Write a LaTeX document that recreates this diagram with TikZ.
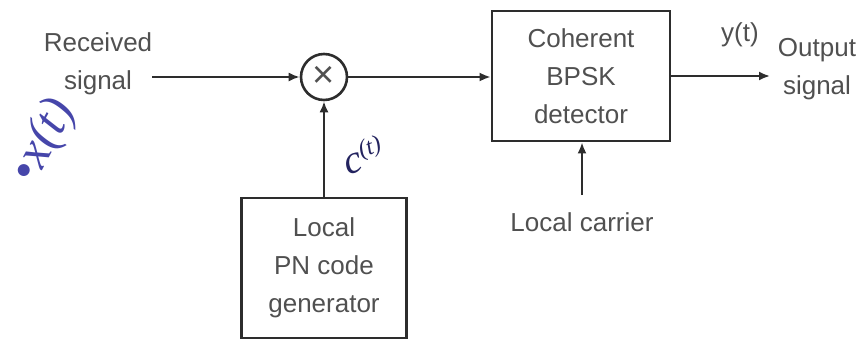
\documentclass[tikz,border=0pt]{standalone}
\usepackage{fontspec}
\setmainfont{Liberation Sans}
\newfontfamily\penfont{Liberation Serif}
\usetikzlibrary{arrows.meta}

\definecolor{inkgray}{RGB}{80,80,80}
\definecolor{linegray}{RGB}{45,45,45}
\definecolor{penblue}{RGB}{70,70,170}
\definecolor{pennavy}{RGB}{35,35,95}

\tikzset{
  block/.style={draw=linegray,line width=2.8pt,rectangle,align=center,
    text=inkgray,font=\fontsize{26}{38}\selectfont},
  lbl/.style={text=inkgray,align=center,font=\fontsize{26}{38}\selectfont},
  sig/.style={draw=linegray,line width=2pt,-{Latex[length=11pt,width=9pt]}},
  pen/.style={font=\penfont\itshape\fontsize{40}{40}\selectfont}
}

\begin{document}
\begin{tikzpicture}[x=1pt,y=-1pt]

        % frame
        \useasboundingbox (0,0) rectangle (861,343);

        % ============================================
        % BLOCKS
        % ============================================

        \node[draw=linegray,line width=2.6pt,circle,minimum size=46pt,inner sep=0pt,
              text=inkgray,font=\fontsize{38}{38}\selectfont] (mult) at (324,77) {×};
        \node[block,minimum width=178pt,minimum height=130pt] (det) at (581,76)
              {Coherent\\BPSK\\detector};
        \node[block,minimum width=165pt,minimum height=140pt] (pn) at (324,268)
              {Local\\PN code\\generator};

        % ============================================
        % LABELS
        % ============================================

        \node[lbl] (recv) at (98,64) {Received\\signal};
        \node[lbl] (outsig) at (817,69) {Output\\signal};
        \node[lbl] (yt) at (740,35) {y(t)};
        \node[lbl] (lc) at (582,222) {Local carrier};

        % handwritten notes
        \node[pen,text=penblue,rotate=62,font=\penfont\itshape\fontsize{50}{50}\selectfont]
              (xt) at (44,142) {•x(t)};
        \node[pen,text=pennavy,rotate=20] (ct) at (363,155)
              {c\raisebox{12pt}{\fontsize{24}{24}\selectfont(t)}};

        % ============================================
        % CONNECTIONS
        % ============================================

        \coordinate (in) at (152,77);
        \coordinate (out) at (770,76);
        \coordinate (lcin) at (582,195);

        \draw[sig] (in) -- (mult);
        \draw[sig] (mult) -- (mult -| det.west);
        \draw[sig] (det) -- (out);
        \draw[sig] (pn) -- (mult);
        \draw[sig] (lcin) -- (lcin |- det.south);

\end{tikzpicture}
\end{document}
